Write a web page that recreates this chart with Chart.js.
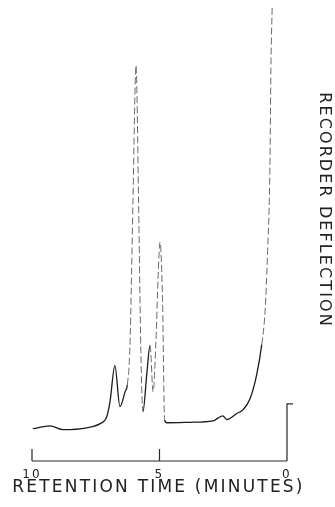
<!DOCTYPE html>
<html>
<head>
<meta charset="utf-8">
<script src="https://cdn.jsdelivr.net/npm/chart.js@4.4.0/dist/chart.umd.min.js"></script>
<style>
  body { margin: 0; background: #fff; }
  #chromChart { display: block; }
</style>
</head>
<body>
<canvas id="chromChart" width="335" height="507"></canvas>
<script>
// retention time (minutes) and recorder deflection (% of full scale)
const retentionTime = [9.97, 9.29, 8.77, 7.85, 7.33, 7.07, 6.94, 6.75, 6.55, 6.35, 6.26, 6.16, 6.04, 5.92, 5.82, 5.73, 5.65,
  5.49, 5.37, 5.25, 5.14, 5.06, 4.98, 4.88, 4.80, 4.71, 3.80, 2.90, 2.52, 2.36, 1.97, 1.73, 1.45, 1.19, 0.99, 0.86, 0.76,
  0.67, 0.63, 0.58];
const deflection = [7.0, 7.6, 6.8, 7.2, 8.1, 9.6, 12.9, 20.7, 11.8, 15.0, 16.6, 24.8, 56.4, 85.8, 56.4, 23.7, 10.7,
  19.4, 25.1, 15.0, 25.9, 39.0, 47.5, 34.6, 8.9, 8.3, 8.4, 8.7, 9.8, 9.0, 10.3, 11.1, 13.5, 18.7, 25.3, 32.5, 45.5,
  63.6, 85.4, 98.9];

const tickValues = [10, 5, 0];
const xTitle = 'RETENTION TIME (MINUTES)';
const yTitle = 'RECORDER DEFLECTION';
const injectMark = 12.4;   // height of the little bar at time zero

var points = [];
for (let i = 0; i < retentionTime.length; i++) {
  points.push({x: retentionTime[i], y: deflection[i]});
}

// steep pen strokes come out faint and broken on the recorder
function steep(ctx) {
  let dx = Math.abs(ctx.p1.x - ctx.p0.x);
  let dy = Math.abs(ctx.p1.y - ctx.p0.y);
  return dy > 10 * Math.max(dx, 0.1);
}

// axis with ticks pointing up + letter spacing tweaks for the hand lettering
const recorderAxis = {
  id: 'recorderAxis',
  beforeDraw(chart) {
    chart.ctx.save();
    chart.ctx.letterSpacing = '2.2px';
  },
  afterDatasetsDraw(chart) {
    const ctx = chart.ctx;
    const xs = chart.scales.x, ys = chart.scales.y;
    const y0 = ys.getPixelForValue(0);
    ctx.save();
    ctx.strokeStyle = '#2a2a2a';
    ctx.lineWidth = 1.2;
    ctx.beginPath();
    ctx.moveTo(xs.getPixelForValue(10), y0);
    ctx.lineTo(xs.getPixelForValue(0), y0);
    tickValues.forEach(v => {
      ctx.moveTo(xs.getPixelForValue(v), y0);
      ctx.lineTo(xs.getPixelForValue(v), y0 - 12);
    });
    let xm = xs.getPixelForValue(0);
    let ym = ys.getPixelForValue(injectMark);
    ctx.moveTo(xm, y0);
    ctx.lineTo(xm, ym);
    ctx.lineTo(xm + 6, ym);
    ctx.stroke();
    ctx.restore();
    // the right title is drawn after this point (y grid z = 1)
    ctx.save();
    ctx.translate(0, -20.5);
    ctx.letterSpacing = '2.1px';
  },
  afterDraw(chart) {
    chart.ctx.restore();
    chart.ctx.restore();
  }
};

new Chart(document.getElementById('chromChart'), {
  type: 'line',
  data: {
    datasets: [{
      data: points,
      borderColor: '#1c1c1c',
      borderWidth: 1.3,
      pointRadius: 0,
      cubicInterpolationMode: 'monotone',
      segment: {
        borderColor: ctx => steep(ctx) ? '#6a6a6a' : undefined,
        borderDash: ctx => steep(ctx) ? [7, 3] : undefined,
        borderWidth: ctx => steep(ctx) ? 1 : undefined
      }
    }]
  },
  options: {
    responsive: false,
    animation: false,
    events: [],
    layout: { padding: { left: 12, right: 0, top: 0, bottom: 0 } },
    plugins: { legend: { display: false }, tooltip: { enabled: false } },
    scales: {
      x: {
        type: 'linear',
        reverse: true,
        // a little room past 10 and 0 so the lettering can run wider than the axis
        min: -0.706,
        max: 10.784,
        afterBuildTicks: s => { s.ticks = tickValues.map(v => ({value: v})); },
        afterFit: s => { s.height = 46; },
        grid: { display: false, drawTicks: false },
        border: { display: false },
        ticks: {
          padding: 7,
          color: '#222',
          font: { family: 'DejaVu Sans', size: 12 },
          callback: v => String(v)
        },
        title: {
          display: true,
          text: xTitle,
          color: '#222',
          font: { family: 'DejaVu Sans', size: 17 },
          padding: { top: 0, bottom: 9 }
        }
      },
      y: {
        position: 'right',
        min: 0,
        max: 100,
        afterFit: s => { s.width = 30; },
        grid: { display: false, drawTicks: false, z: 1 },
        border: { display: false },
        ticks: { display: false },
        title: {
          display: true,
          text: yTitle,
          color: '#222',
          font: { family: 'DejaVu Sans', size: 16 },
          padding: { top: 1.4, bottom: 0 }
        }
      }
    }
  },
  plugins: [recorderAxis]
});
</script>
</body>
</html>
